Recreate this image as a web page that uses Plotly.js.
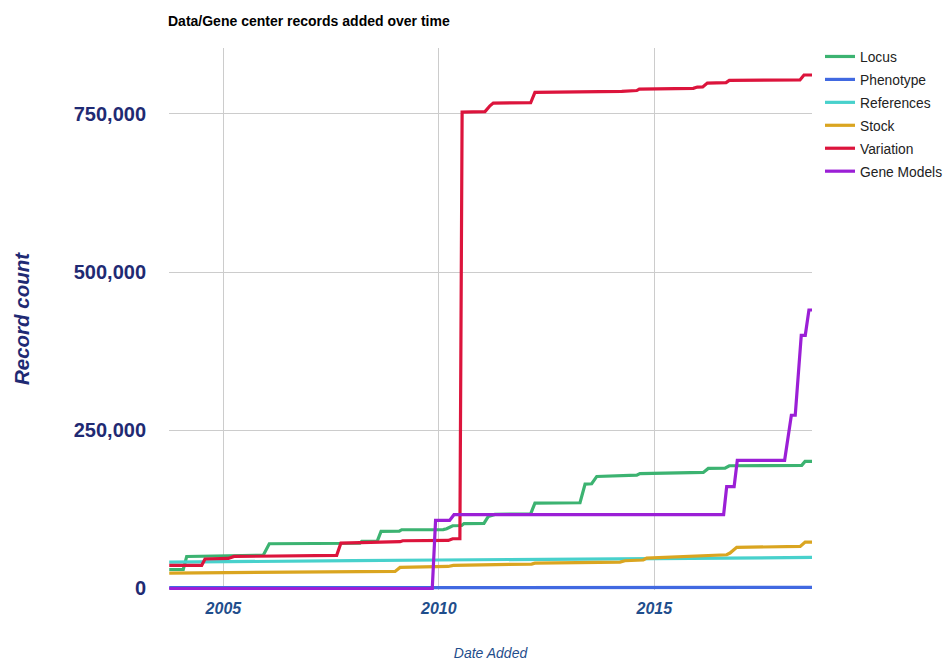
<!DOCTYPE html>
<html>
<head>
<meta charset="utf-8">
<script src="https://cdn.plot.ly/plotly-3.0.1.min.js"></script>
<style>html,body{margin:0;padding:0;background:#fff;}#chart{width:943px;height:661px;}</style>
</head>
<body>
<div id="chart"></div>
<script>
// Dates are given as decimal years, values as record counts
const seriesNames = ["Locus", "Phenotype", "References", "Stock", "Variation", "Gene Models"];
const seriesColors = ["#3cb371", "#4169e1", "#48d1cc", "#daa520", "#dc143c", "#9b1fd6"];

const locusX = [2003.747, 2004.072, 2004.151, 2005.928, 2006.067, 2008.172, 2008.211, 2008.573, 2008.659, 2009.084, 2009.139, 2010.104, 2010.183, 2010.323, 2010.531, 2010.585, 2011.049, 2011.149, 2011.304, 2012.132, 2012.232, 2013.276, 2013.392, 2013.547, 2013.664, 2014.204, 2014.32, 2014.592, 2014.668, 2016.137, 2016.253, 2016.641, 2016.74, 2018.42, 2018.497, 2018.66];
const locusY = [30000, 30000, 50600, 52500, 70700, 71500, 74500, 74800, 90200, 90500, 92800, 93000, 94400, 99100, 99500, 102500, 102800, 113800, 117000, 118000, 135000, 135500, 165000, 165500, 177000, 177500, 178600, 179000, 181500, 183400, 189700, 190000, 193900, 194500, 200700, 200700];

const phenoX = [2003.747, 2009.85, 2014.0, 2018.66];
const phenoY = [1200, 1300, 1500, 1700];

const refX = [2003.747, 2005.0, 2008.0, 2010.0, 2012.0, 2014.0, 2016.0, 2018.66];
const refY = [41500, 42500, 44000, 45000, 46000, 47000, 48000, 49000];

const stockX = [2003.747, 2007.476, 2008.984, 2009.1, 2010.214, 2010.336, 2011.111, 2012.155, 2012.232, 2014.204, 2014.32, 2014.745, 2014.824, 2016.68, 2016.756, 2016.912, 2018.385, 2018.501, 2018.66];
const stockY = [24400, 26300, 27000, 33300, 34800, 36500, 37500, 38600, 40000, 41800, 43800, 45000, 48100, 53300, 56000, 65000, 66400, 73400, 73400];

const variationX = [2003.747, 2004.499, 2004.575, 2005.116, 2005.248, 2007.631, 2007.731, 2008.172, 2008.248, 2009.10, 2009.162, 2010.22, 2010.323, 2010.49, 2010.54, 2011.072, 2011.188, 2011.265, 2012.132, 2012.232, 2014.244, 2014.32, 2014.592, 2014.652, 2015.905, 2015.998, 2016.123, 2016.23, 2016.664, 2016.74, 2018.38, 2018.473, 2018.66];
const variationY = [36400, 36400, 46600, 47500, 50600, 52300, 71800, 72300, 73600, 74000, 75400, 76000, 78600, 78600, 752800, 753500, 762700, 767000, 767500, 783800, 785500, 786000, 786800, 789000, 790200, 792300, 792600, 798600, 799200, 802700, 803600, 811300, 811300];

const geneX = [2003.747, 2009.849, 2009.926, 2010.25, 2010.353, 2016.608, 2016.678, 2016.85, 2016.926, 2018.023, 2018.179, 2018.271, 2018.41, 2018.503, 2018.589, 2018.66];
const geneY = [0, 0, 107600, 107600, 116600, 116600, 161000, 161000, 202500, 202500, 273700, 273700, 400000, 400000, 440000, 440000];

const yTickVals = [0, 250000, 500000, 750000];
const yTickText = ["0", "250,000", "500,000", "750,000"];
const xTickVals = ["2005-01-01", "2010-01-01", "2015-01-01"];
const xTickText = ["2005", "2010", "2015"];

function toDate(y) {
  const yr = Math.floor(y);
  const start = Date.UTC(yr, 0, 1), end = Date.UTC(yr + 1, 0, 1);
  const d = new Date(start + (y - yr) * (end - start));
  return d.toISOString().slice(0, 10);
}

const xs = [locusX, phenoX, refX, stockX, variationX, geneX];
const ys = [locusY, phenoY, refY, stockY, variationY, geneY];

const traces = seriesNames.map((n, i) => ({
  type: "scatter", mode: "lines", name: n,
  x: xs[i].map(toDate), y: ys[i],
  line: {color: seriesColors[i], width: 3.2},
  legendgroup: n
}));

const font = "Arial, 'Liberation Sans', sans-serif";
const layout = {
  width: 943, height: 661,
  margin: {l: 169, r: 131, t: 48, b: 71},
  paper_bgcolor: "#fff", plot_bgcolor: "#fff",
  font: {family: font, color: "#222"},
  title: {text: "<b>Data/Gene center records added over time</b>", font: {family: font, size: 14, color: "#000"},
          x: 168/943, xanchor: "left", xref: "container", y: 1 - 21/661, yanchor: "middle", yref: "container"},
  xaxis: {
    type: "date", range: [toDate(2003.74), toDate(2018.659)],
    tickvals: xTickVals, ticktext: xTickText,
    tickfont: {family: font, size: 16, color: "#1f4e8c", weight: "bold", style: "italic"},
    showgrid: true, gridcolor: "#cccccc", gridwidth: 1,
    zeroline: false, showline: false,
    ticks: "outside", ticklen: 4, tickcolor: "rgba(0,0,0,0)",
    title: {text: "<i>Date Added</i>", font: {family: font, size: 14, color: "#1f4e8c"}, standoff: 40},
    automargin: false
  },
  yaxis: {
    range: [-2400, 854000],
    tickvals: yTickVals, ticktext: yTickText,
    tickfont: {family: font, size: 20, color: "#1f2a73", weight: "bold"},
    showgrid: true, gridcolor: "#cccccc", gridwidth: 1,
    zeroline: false, showline: false,
    ticks: "outside", ticklen: 18, tickcolor: "rgba(0,0,0,0)",
    title: {text: "<b><i>Record count</i></b>", font: {family: font, size: 20.5, color: "#1f2a73"}, standoff: 38},
    automargin: false
  },
  legend: {x: 820/943, xref: "container", xanchor: "left", y: 1 - 41/661, yref: "container", yanchor: "top",
           font: {family: font, size: 13.8, color: "#222"},
           traceorder: "grouped", tracegroupgap: 2, bgcolor: "rgba(0,0,0,0)"},
  showlegend: true
};

Plotly.newPlot("chart", traces, layout, {displayModeBar: false, staticPlot: true});
</script>
</body>
</html>
